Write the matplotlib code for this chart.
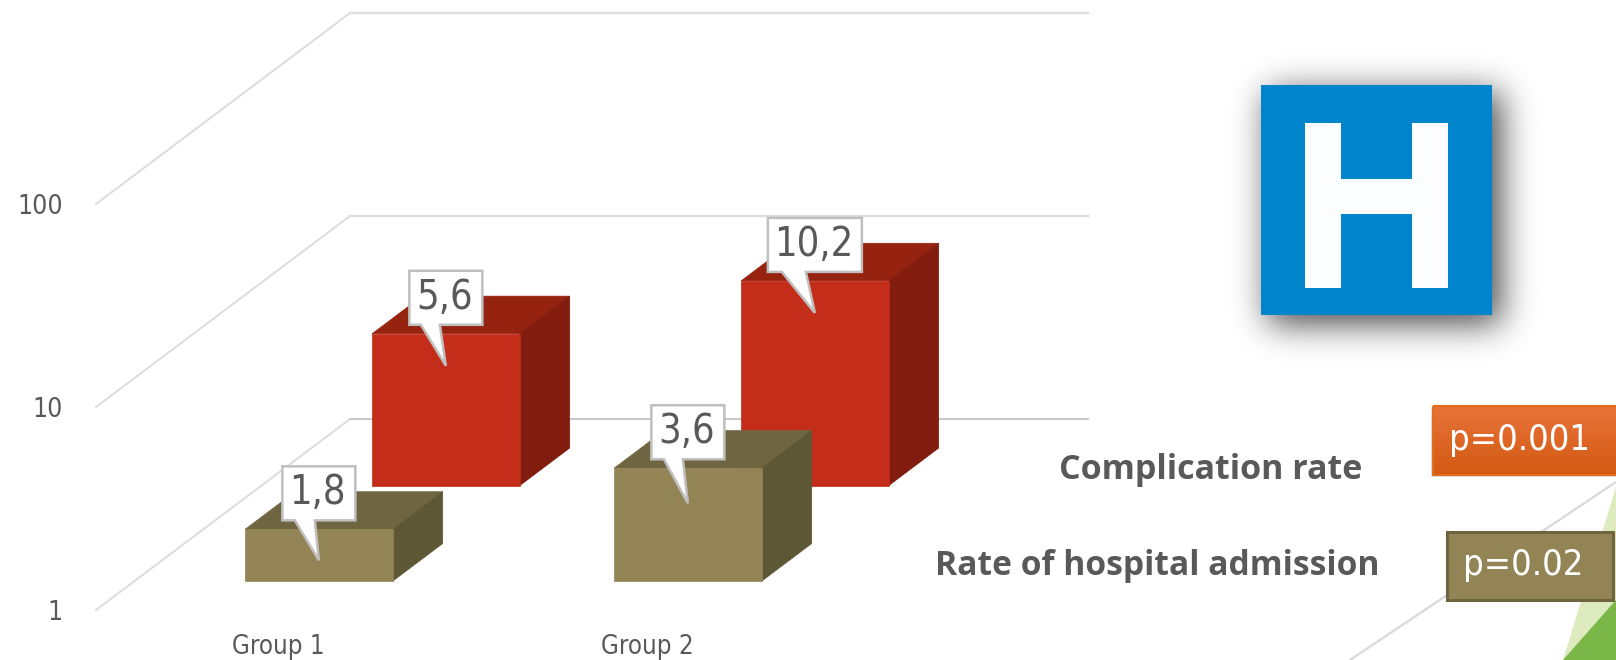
import numpy as np
import matplotlib
matplotlib.use("Agg")
import matplotlib.pyplot as plt
from matplotlib.patches import Polygon, Rectangle
from matplotlib.transforms import Affine2D, IdentityTransform

plt.rcParams['font.family'] = ['DejaVu Sans']

# datos del grafico
grupos = ["Group 1", "Group 2"]
complicaciones = [5.6, 10.2]
hospital = [1.8, 3.6]
etiquetas_compl = ["5,6", "10,2"]
etiquetas_hosp = ["1,8", "3,6"]
ticks_y = [1, 10, 100]

W, H = 1616, 660
GRIS = "#595959"
fig = plt.figure(figsize=(W / 100, H / 100), dpi=100, facecolor="white")

# plano frontal del eje, en pixeles de la figura
ax = fig.add_axes([96 / W, (H - 610) / H, 738 / W, 406 / H])
ax.patch.set_visible(False)
ax.set_yscale("log")
ax.set_ylim(1, 100)
ax.set_xlim(-0.5, 1.5)
for s in ax.spines.values():
    s.set_visible(False)
ax.set_yticks(ticks_y)
ax.set_yticklabels([str(t) for t in ticks_y], fontsize=19, color=GRIS, stretch="condensed")
ax.set_xticks(range(len(grupos)))
ax.set_xticklabels(grupos, fontsize=18.5, color=GRIS, stretch="condensed")
ax.minorticks_off()
ax.tick_params(axis="y", length=0, pad=24)
ax.tick_params(axis="x", length=0, pad=17.5)
for lab in ax.get_xticklabels():
    lab.set_transform(lab.get_transform() + Affine2D().translate(-2, 0))

FONDO = np.array([254, 191])  # desplazamiento de toda la profundidad, px


def punto(x, v, d):
    return ax.transData.transform((x, v)) + d * FONDO


def cara(verts, color, z):
    pts = [punto(*v) for v in verts]
    ax.add_patch(Polygon(pts, closed=True, facecolor=color, edgecolor=color, lw=0.5,
                         transform=IdentityTransform(), clip_on=False, zorder=z))


def barra(i, v, d0, d1, frente, arriba, lado, z):
    x0, x1 = i - 0.2, i + 0.2
    cara([(x0, v, d0), (x1, v, d0), (x1, v, d1), (x0, v, d1)], arriba, z)
    cara([(x1, 1, d0), (x1, 1, d1), (x1, v, d1), (x1, v, d0)], lado, z)
    cara([(x0, 1, d0), (x1, 1, d0), (x1, v, d0), (x0, v, d0)], frente, z)


def globo(i, v, d, texto, ancho, base, caida, z=10):
    # globo de la etiqueta, medido en px desde el borde superior de la barra
    cx, cy = punto(i, v, d)
    pts = [(cx - ancho / 2, cy + 9), (cx + base[0], cy + 9), (cx, cy - caida), (cx + base[1], cy + 9),
           (cx + ancho / 2, cy + 9), (cx + ancho / 2, cy + 63), (cx - ancho / 2, cy + 63)]
    ax.add_patch(Polygon(pts, closed=True, facecolor="white", edgecolor="#BFBFBF", lw=1.8,
                         transform=IdentityTransform(), clip_on=False, zorder=z))
    ax.text(cx - 1, cy + 36, texto, fontsize=28.5, color=GRIS, ha="center", va="center", stretch="condensed",
            transform=IdentityTransform(), zorder=z + 1)


# paredes
for t in ticks_y:
    col = "#C8C8C8" if t == 1 else "#DEDEDE"
    a, b, c = punto(-0.5, t, 0), punto(-0.5, t, 1), punto(1.5, t, 1)
    ax.plot([a[0], b[0]], [a[1], b[1]], color="#DCDCDC", lw=1.4,
            transform=IdentityTransform(), clip_on=False, zorder=1)
    ax.plot([b[0], c[0]], [b[1], c[1]], color=col, lw=1.4 if t == 1 else 1.7,
            transform=IdentityTransform(), clip_on=False, zorder=1)

for i, v in enumerate(complicaciones):
    barra(i, v, 0.651, 0.848, "#C42D19", "#962210", "#811C0F", 2 + i)
for i, v in enumerate(hospital):
    barra(i, v, 0.151, 0.348, "#928455", "#6F6641", "#5E5735", 5 + i)

globo(0, complicaciones[0], 0.651, etiquetas_compl[0], 73, (-25, -6), 32)
globo(1, complicaciones[1], 0.651, etiquetas_compl[1], 94, (-33, -9), 32)
globo(0, hospital[0], 0.151, etiquetas_hosp[0], 73, (-24, -4), 31)
globo(1, hospital[1], 0.151, etiquetas_hosp[1], 73, (-24, -5), 35)

# capa de adornos en pixeles
over = fig.add_axes([0, 0, 1, 1])
over.patch.set_visible(False)
over.axis("off")

# tema de la diapositiva, abajo a la derecha
over.plot([1350, 1616], [660, 482], color="#D9D9D9", lw=1.6, zorder=1)
over.add_patch(Polygon([(1563, 660), (1616, 487), (1616, 660)], facecolor="#DDEBBF", edgecolor="none", zorder=1))
over.add_patch(Polygon([(1563, 660), (1616, 600), (1616, 660)], facecolor="#7AB648", edgecolor="none", zorder=1))

# sombra del icono
mx, my = np.meshgrid(np.arange(1190, 1570), np.arange(20, 400))
mask = ((mx >= 1268) & (mx <= 1500) & (my >= 92) & (my <= 323)).astype(float)
kern = np.exp(-np.arange(-54, 55) ** 2 / (2 * 17.0 ** 2))
kern = kern / kern.sum()
mask = np.apply_along_axis(lambda r: np.convolve(r, kern, mode="same"), 0, mask)
mask = np.apply_along_axis(lambda r: np.convolve(r, kern, mode="same"), 1, mask)
sombra = np.zeros(mask.shape + (4,))
sombra[..., 3] = mask * 0.72
over.imshow(sombra, extent=(1190, 1570, 400, 20), aspect="auto", zorder=2, interpolation="bilinear")

# icono H
over.add_patch(Rectangle((1261, 85), 231, 230, facecolor="#0085CC", edgecolor="none", zorder=3))
over.add_patch(Rectangle((1305, 123), 36, 165, facecolor="#FBFDFE", edgecolor="none", zorder=4))
over.add_patch(Rectangle((1412, 123), 36, 165, facecolor="#FBFDFE", edgecolor="none", zorder=4))
over.add_patch(Rectangle((1341, 179), 71, 35, facecolor="#FBFDFE", edgecolor="none", zorder=4))

# caja naranja con degradado
over.add_patch(Rectangle((1431, 409), 190, 68, facecolor="#000000", alpha=0.12, edgecolor="none", zorder=4))
grad = np.linspace(0, 1, 64)[:, None]
c0, c1 = np.array([232, 115, 58]) / 255, np.array([211, 90, 18]) / 255
over.imshow((c0 + (c1 - c0) * grad)[:, None, :], extent=(1433, 1618, 475, 406), aspect="auto", zorder=5)
over.add_patch(Rectangle((1433, 406), 185, 69, facecolor="none", edgecolor="#E36C1E", lw=1.5, zorder=6))
over.text(1520, 440, "p=0.001", fontsize=26, color="white", ha="center", va="center",
          stretch="condensed", zorder=7)

# caja oliva
over.add_patch(Rectangle((1447, 532), 166, 68, facecolor="#928455", edgecolor="#6E6440", lw=2.2, zorder=5))
over.text(1523, 565, "p=0.02", fontsize=26, color="white", ha="center", va="center",
          stretch="condensed", zorder=7)

over.text(1211, 470, "Complication rate", fontsize=24.5, fontweight="bold", family="Open Sans",
          color=GRIS, ha="center", va="center", zorder=7)
over.text(1157, 566, "Rate of hospital admission", fontsize=24.2, fontweight="bold", family="Open Sans",
          color=GRIS, ha="center", va="center", zorder=7)

over.set_xlim(0, W)
over.set_ylim(H, 0)

fig.savefig("out.png", dpi=100)
